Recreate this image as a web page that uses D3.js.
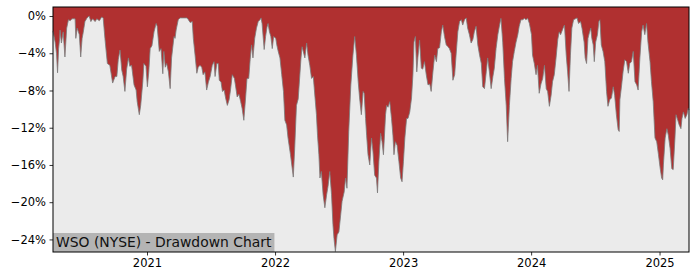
<!DOCTYPE html>
<html><head><meta charset="utf-8">
<script src="https://cdn.jsdelivr.net/npm/d3@7"></script>
<style>body{margin:0;background:#fff} svg{display:block}</style>
</head><body><svg id="c" width="700" height="280"></svg>
<script>
const dates = [
"2020-04-08","2020-04-14","2020-04-18","2020-04-21","2020-04-24","2020-04-27","2020-04-28","2020-05-02","2020-05-07","2020-05-12",
"2020-05-17","2020-05-22","2020-05-27","2020-06-01","2020-06-10","2020-06-12","2020-06-16","2020-06-22","2020-06-26","2020-06-30",
"2020-07-03","2020-07-08","2020-07-14","2020-07-20","2020-07-25","2020-07-30","2020-08-06","2020-08-11","2020-08-18","2020-08-25",
"2020-08-29","2020-09-03","2020-09-10","2020-09-17","2020-09-25","2020-10-02","2020-10-07","2020-10-11","2020-10-16","2020-10-21",
"2020-10-25","2020-10-30","2020-11-04","2020-11-09","2020-11-13","2020-11-18","2020-11-25","2020-12-01","2020-12-04","2020-12-10",
"2020-12-14","2020-12-20","2020-12-23","2020-12-29","2021-01-02","2021-01-06","2021-01-10","2021-01-15","2021-01-21","2021-01-27",
"2021-01-30","2021-02-05","2021-02-10","2021-02-15","2021-02-18","2021-02-22","2021-02-26","2021-03-03","2021-03-08","2021-03-12",
"2021-03-19","2021-03-22","2021-03-25","2021-03-31","2021-04-05","2021-04-14","2021-04-25","2021-04-29","2021-05-04","2021-05-10",
"2021-05-13","2021-05-18","2021-05-23","2021-05-27","2021-06-01","2021-06-06","2021-06-10","2021-06-15","2021-06-20","2021-06-25",
"2021-06-30","2021-07-06","2021-07-11","2021-07-14","2021-07-19","2021-07-23","2021-07-26","2021-07-31","2021-08-04","2021-08-09",
"2021-08-13","2021-08-18","2021-08-23","2021-08-27","2021-09-01","2021-09-07","2021-09-10","2021-09-15","2021-09-20","2021-09-25",
"2021-09-29","2021-10-04","2021-10-09","2021-10-13","2021-10-18","2021-10-22","2021-10-26","2021-10-30","2021-11-04","2021-11-09",
"2021-11-14","2021-11-19","2021-11-22","2021-11-25","2021-12-01","2021-12-05","2021-12-09","2021-12-12","2021-12-16","2021-12-20",
"2021-12-24","2021-12-28","2022-01-03","2022-01-06","2022-01-10","2022-01-15","2022-01-20","2022-01-25","2022-01-29","2022-02-03",
"2022-02-07","2022-02-14","2022-02-22","2022-02-26","2022-03-03","2022-03-08","2022-03-16","2022-03-19","2022-03-27","2022-04-01",
"2022-04-05","2022-04-10","2022-04-15","2022-04-20","2022-04-25","2022-04-29","2022-05-02","2022-05-06","2022-05-09","2022-05-13",
"2022-05-18","2022-05-23","2022-05-28","2022-06-01","2022-06-06","2022-06-11","2022-06-15","2022-06-18","2022-06-22","2022-06-27",
"2022-07-02","2022-07-07","2022-07-11","2022-07-17","2022-07-21","2022-07-25","2022-07-30","2022-08-05","2022-08-11","2022-08-16",
"2022-08-21","2022-08-26","2022-08-30","2022-09-04","2022-09-09","2022-09-12","2022-09-16","2022-09-19","2022-09-23","2022-09-28",
"2022-10-03","2022-10-07","2022-10-12","2022-10-17","2022-10-20","2022-10-24","2022-10-29","2022-11-02","2022-11-06","2022-11-12",
"2022-11-15","2022-11-19","2022-11-24","2022-11-29","2022-12-03","2022-12-06","2022-12-10","2022-12-15","2022-12-20","2022-12-25",
"2022-12-29","2023-01-02","2023-01-06","2023-01-11","2023-01-15","2023-01-20","2023-01-25","2023-01-29","2023-02-01","2023-02-05",
"2023-02-09","2023-02-12","2023-02-17","2023-02-22","2023-02-26","2023-03-03","2023-03-08","2023-03-13","2023-03-18","2023-03-22",
"2023-03-27","2023-04-01","2023-04-06","2023-04-10","2023-04-15","2023-04-20","2023-04-24","2023-04-29","2023-05-04","2023-05-09",
"2023-05-13","2023-05-18","2023-05-23","2023-05-28","2023-06-01","2023-06-06","2023-06-11","2023-06-16","2023-06-20","2023-06-25",
"2023-06-30","2023-07-04","2023-07-09","2023-07-14","2023-07-19","2023-07-23","2023-07-28","2023-08-02","2023-08-07","2023-08-12",
"2023-08-16","2023-08-21","2023-08-26","2023-08-30","2023-09-04","2023-09-09","2023-09-14","2023-09-18","2023-09-23","2023-09-28",
"2023-10-03","2023-10-07","2023-10-12","2023-10-17","2023-10-22","2023-10-26","2023-10-31","2023-11-05","2023-11-09","2023-11-14",
"2023-11-19","2023-11-24","2023-11-28","2023-12-03","2023-12-08","2023-12-13","2023-12-17","2023-12-22","2023-12-27","2024-01-02",
"2024-01-05","2024-01-10","2024-01-15","2024-01-19","2024-01-24","2024-01-29","2024-02-03","2024-02-08","2024-02-13","2024-02-17",
"2024-02-22","2024-02-27","2024-03-02","2024-03-07","2024-03-12","2024-03-17","2024-03-21","2024-03-25","2024-04-01","2024-04-05",
"2024-04-10","2024-04-14","2024-04-18","2024-04-22","2024-04-26","2024-05-01","2024-05-06","2024-05-11","2024-05-15","2024-05-21",
"2024-05-25","2024-05-31","2024-06-03","2024-06-07","2024-06-11","2024-06-15","2024-06-19","2024-06-22","2024-06-26","2024-06-29",
"2024-07-03","2024-07-08","2024-07-12","2024-07-15","2024-07-19","2024-07-24","2024-07-29","2024-08-03","2024-08-07","2024-08-12",
"2024-08-17","2024-08-22","2024-08-26","2024-08-31","2024-09-05","2024-09-08","2024-09-10","2024-09-15","2024-09-19","2024-09-24",
"2024-09-29","2024-10-04","2024-10-08","2024-10-13","2024-10-18","2024-10-23","2024-10-28","2024-11-01","2024-11-06","2024-11-11",
"2024-11-15","2024-11-20","2024-11-25","2024-11-29","2024-12-05","2024-12-09","2024-12-14","2024-12-19","2024-12-24","2024-12-29",
"2025-01-03","2025-01-07","2025-01-10","2025-01-12","2025-01-17","2025-01-22","2025-01-26","2025-01-31","2025-02-05","2025-02-09",
"2025-02-14","2025-02-17","2025-02-22","2025-02-26","2025-03-03","2025-03-06","2025-03-10","2025-03-15","2025-03-20","2025-03-24",
"2025-03-26"
];
const drawdown = [
-1.6,-2.8,-4.0,-6.1,-3.5,-2.4,-1.5,-2.9,-1.7,-4.4,
-1.3,-0.4,-0.5,-0.3,-0.3,-2.4,-1.3,-2.0,-4.4,-2.4,
-1.8,-0.6,-0.2,0,-0.6,-0.3,-0.6,-0.3,-0.5,-0.1,
-0.2,-2.4,-5.1,-5.3,-7.2,-6.5,-6.5,-4.7,-3.65,-5.8,
-6.5,-8.1,-5.7,-4.5,-5.4,-5.3,-7.4,-7.95,-9.2,-10.6,
-9.6,-7.05,-5.1,-5.4,-7.6,-6.0,-3.5,-3.2,-1.7,-0.8,
-1.1,-3.8,-3.5,-6.2,-3.8,-5.5,-5.1,-6.0,-7.8,-4.5,
-2.2,-2.4,-1.5,-0.4,-0.2,-0.2,-0.2,-0.4,-0.7,-0.6,
-2.4,-4.2,-6.15,-5.5,-5.3,-5.5,-6.3,-6.0,-7.95,-7.1,
-6.5,-5.3,-4.9,-6.5,-5.1,-5.1,-6.9,-7.1,-8.1,-7.95,
-8.8,-9.6,-9.0,-7.95,-6.3,-6.7,-7.4,-8.7,-8.4,-9.2,
-9.9,-11.2,-8.8,-6.7,-6.7,-4.7,-3.1,-4.5,-2.4,-1.3,
-0.6,-0.4,-0.2,-0.8,-3.6,-2.2,-1.2,-0.8,-1.7,-2.2,
-3.5,-2.2,-2.4,-3.1,-3.8,-4.5,-6.3,-8.1,-11.2,-11.7,
-13.1,-14.9,-17.3,-14.2,-9.6,-8.9,-4.5,-3.3,-4.5,-2.9,
-4.2,-5.3,-6.7,-6.5,-8.8,-10.6,-12.8,-14.9,-17.4,-16.7,
-19.2,-20.6,-19.2,-18.3,-16.7,-19.2,-22.4,-23.9,-25.3,-23.5,
-23.2,-21.4,-19.9,-18.9,-17.4,-18.5,-12.4,-7.4,-4.2,-2.2,
-4.2,-7.05,-8.8,-10.6,-8.1,-8.3,-11.0,-12.8,-14.9,-16.0,
-13.1,-14.5,-17.1,-17.4,-19.0,-15.6,-12.6,-13.5,-14.9,-10.6,
-9.6,-9.8,-9.2,-11.0,-12.8,-14.9,-13.5,-13.9,-15.6,-17.4,
-17.8,-15.6,-13.1,-11.0,-11.0,-10.3,-8.8,-6.3,-2.8,-2.2,
-6.0,-4.5,-2.6,-5.6,-5.7,-4.9,-6.3,-7.4,-7.3,-8.1,
-6.0,-4.2,-4.9,-3.5,-3.4,-1.7,-0.97,-2.2,-3.1,-3.3,
-3.5,-4.0,-6.9,-6.3,-4.2,-1.7,-0.6,-0.4,-0.97,-0.4,
-0.2,-1.3,-2.0,-2.9,-2.5,-1.7,-1.1,-3.1,-4.2,-5.1,
-7.6,-7.8,-6.0,-4.5,-6.0,-7.8,-6.5,-5.6,-3.5,-2.0,
-0.97,-0.25,-2.8,-6.7,-9.6,-13.5,-9.6,-6.7,-4.9,-3.8,
-2.8,-2.0,-1.1,-0.4,-0.4,-0.25,-0.4,-0.25,-0.8,-2.0,
-4.2,-5.1,-6.3,-5.3,-8.3,-7.3,-6.7,-5.3,-7.8,-8.1,
-9.7,-8.5,-7.05,-6.3,-4.5,-2.5,-1.7,-2.0,-1.3,-0.97,
-4.2,-6.0,-8.1,-4.2,-1.3,-0.4,-0.3,-0.2,-0.8,-0.6,
-1.3,-2.8,-4.5,-5.1,-2.4,-1.8,-1.3,-2.4,-3.1,-4.9,
-2.8,-2.0,-0.6,-0.4,-3.1,-3.8,-4.9,-8.1,-9.7,-9.0,
-8.8,-7.6,-8.5,-10.6,-12.2,-12.4,-9.0,-7.4,-6.0,-4.7,
-4.9,-6.15,-5.1,-4.9,-3.8,-7.05,-7.4,-7.95,-4.5,-1.7,
-0.97,-2.0,-0.8,-2.8,-4.9,-7.05,-9.2,-13.1,-13.5,-14.9,
-16.4,-17.4,-17.6,-16.0,-13.1,-12.1,-12.8,-14.2,-16.4,-16.5,
-13.1,-10.6,-11.2,-11.7,-12.1,-11.0,-10.3,-11.0,-10.6,-9.9,
-10.1
];
const yTicks = [0, -4, -8, -12, -16, -20, -24];
const xTickYears = [2021, 2022, 2023, 2024, 2025];
const chartTitle = "WSO (NYSE) - Drawdown Chart";

const parse = d3.timeParse("%Y-%m-%d");
const data = dates.map((d, i) => ({date: parse(d), v: drawdown[i]}));

const svg = d3.select("#c");
const L = 53, R = 689, T = 7, B = 252;
const font = "'DejaVu Sans', sans-serif";

const x = d3.scaleTime().domain(d3.extent(data, d => d.date)).range([L, R]);
const y = d3.scaleLinear().domain([-25.35, 0.97]).range([B, T]);

svg.append("rect").attr("x", L).attr("y", T).attr("width", R - L).attr("height", B - T).attr("fill", "#ebebeb");

const area = d3.area().x(d => x(d.date)).y0(y(0.97)).y1(d => y(d.v));
svg.append("path").datum(data).attr("d", area).attr("fill", "#b03030");

const line = d3.line().x(d => x(d.date)).y(d => y(d.v));
svg.append("path").datum(data).attr("d", line).attr("fill", "none")
  .attr("stroke", "#7a7a7a").attr("stroke-width", 1).attr("stroke-opacity", 0.8);

// title box
const tg = svg.append("g");
const tbg = tg.append("rect").attr("fill", "#b4b4b4");
const tt = tg.append("text").attr("x", L + 3).attr("y", B - 5)
  .attr("font-family", font).attr("font-size", 13.9).attr("fill", "#111").text(chartTitle);
const tw = tt.node().getComputedTextLength();
tbg.attr("x", L).attr("y", B - 19).attr("width", tw + 6).attr("height", 19);

// axes
const yAxis = d3.axisLeft(y).tickValues(yTicks).tickSize(3.5).tickPadding(3.5)
  .tickFormat(d => d3.format(".0f")(d) + "%");
const gy = svg.append("g").attr("transform", `translate(${L},0)`).call(yAxis);
const xAxis = d3.axisBottom(x).tickValues(xTickYears.map(yr => new Date(yr, 0, 1)))
  .tickSize(3.5).tickPadding(3.5).tickFormat(d3.timeFormat("%Y"));
const gx = svg.append("g").attr("transform", `translate(0,${B})`).call(xAxis);
[gx, gy].forEach(g => {
  g.select(".domain").remove();
  g.selectAll("line").attr("stroke", "#000").attr("stroke-width", 0.8);
  g.selectAll("text").attr("font-family", font).attr("font-size", 11.5).attr("fill", "#000");
});

svg.append("rect").attr("x", L).attr("y", T).attr("width", R - L).attr("height", B - T)
  .attr("fill", "none").attr("stroke", "#000").attr("stroke-width", 1);
</script></body></html>
